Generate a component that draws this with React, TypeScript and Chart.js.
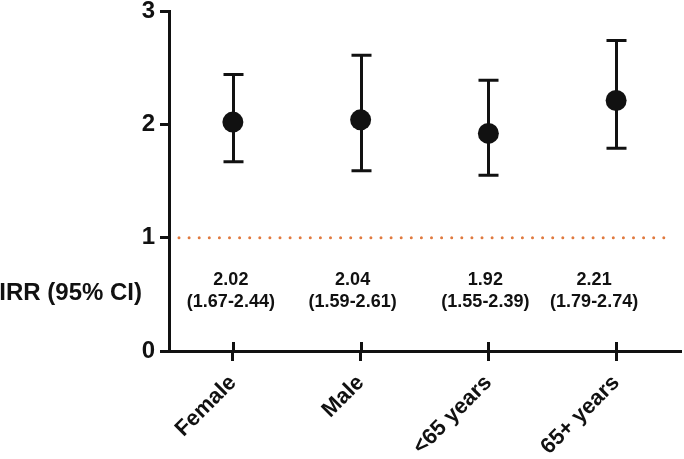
import React, { useEffect, useRef } from 'react';
import { Chart, registerables } from 'chart.js';

Chart.register(...registerables);

const categories = ['Female', 'Male', '<65 years', '65+ years'];
const irr = [2.02, 2.04, 1.92, 2.21];
const ciLower = [1.67, 1.59, 1.55, 1.79];
const ciUpper = [2.44, 2.61, 2.39, 2.74];
const irrLabels = ['2.02', '2.04', '1.92', '2.21'];
const ciLabels = ['(1.67-2.44)', '(1.59-2.61)', '(1.55-2.39)', '(1.79-2.74)'];
const yTicks = [0, 1, 2, 3];
const referenceValue = 1;
const annotationValue = 0.53;
const rowTitle = 'IRR (95% CI)';

const FONT = '"Liberation Sans", Arial, Helvetica, sans-serif';
const INK = '#111111';

const overlayPlugin = {
  id: 'overlay',
  beforeDatasetsDraw(chart: any, _args: any, opts: any) {
    const { ctx, chartArea, scales } = chart;
    const x = scales.x;
    const y = scales.y;
    ctx.save();

    // reference line (dotted)
    const yr = y.getPixelForValue(referenceValue);
    ctx.strokeStyle = '#E07A3F';
    ctx.lineWidth = 3;
    ctx.lineCap = 'round';
    ctx.setLineDash([0, 10.1]);
    ctx.beginPath();
    ctx.moveTo(chartArea.left + 10, yr);
    ctx.lineTo(chartArea.right - 10, yr);
    ctx.stroke();

    // error bars
    ctx.setLineDash([]);
    ctx.lineCap = 'butt';
    ctx.strokeStyle = INK;
    ctx.lineWidth = 3;
    for (let i = 0; i < categories.length; i++) {
      const px = Math.round(x.getPixelForValue(i)) + 0.5;
      const lo = y.getPixelForValue(ciLower[i]);
      const hi = y.getPixelForValue(ciUpper[i]);
      ctx.beginPath();
      ctx.moveTo(px, lo);
      ctx.lineTo(px, hi);
      ctx.moveTo(px - 10, lo);
      ctx.lineTo(px + 10, lo);
      ctx.moveTo(px - 10, hi);
      ctx.lineTo(px + 10, hi);
      ctx.stroke();
    }

    // inner part of x tick marks
    for (let i = 0; i < categories.length; i++) {
      const px = Math.round(x.getPixelForValue(i)) + 0.5;
      ctx.beginPath();
      ctx.moveTo(px, chartArea.bottom - 9);
      ctx.lineTo(px, chartArea.bottom);
      ctx.stroke();
    }

    // annotations
    ctx.fillStyle = INK;
    ctx.textAlign = 'center';
    ctx.textBaseline = 'middle';
    ctx.font = `bold 18px ${FONT}`;
    const ya = y.getPixelForValue(annotationValue);
    const shifts = opts.shifts || [];
    for (let i = 0; i < categories.length; i++) {
      const px = x.getPixelForValue(i) + (shifts[i] || 0);
      ctx.fillText(irrLabels[i], px, ya - 11);
      ctx.fillText(ciLabels[i], px, ya + 11);
    }

    // row title
    ctx.font = `bold 24px ${FONT}`;
    ctx.textAlign = 'right';
    ctx.fillText(rowTitle, 142, ya + 2);
    ctx.restore();
  },
};

export default function App() {
  const ref = useRef<HTMLCanvasElement>(null);

  useEffect(() => {
    if (!ref.current) return;
    const chart = new Chart(ref.current, {
      type: 'line',
      data: {
        labels: categories,
        datasets: [
          {
            label: 'IRR',
            data: irr,
            showLine: false,
            pointRadius: 10.5,
            pointHoverRadius: 10.5,
            pointBackgroundColor: INK,
            pointBorderColor: INK,
            pointBorderWidth: 0,
          },
        ],
      },
      options: {
        responsive: false,
        animation: false,
        events: [],
        layout: { autoPadding: false, padding: { top: 11, right: 4, left: 0, bottom: 0 } },
        plugins: {
          legend: { display: false },
          tooltip: { enabled: false },
          overlay: { shifts: [-2, -8, -3, -22] },
        } as any,
        scales: {
          x: {
            type: 'category',
            offset: true,
            grid: {
              display: true,
              drawOnChartArea: false,
              drawTicks: true,
              tickLength: 10,
              lineWidth: 3,
              color: INK,
              offset: false,
            },
            border: { display: true, color: INK, width: 3 },
            ticks: {
              color: INK,
              font: { family: FONT, size: 22, weight: 'bold' },
              maxRotation: 45,
              minRotation: 45,
              padding: 9,
              autoSkip: false,
            },
            afterFit(scale: any) {
              scale.height = 108;
              scale.paddingLeft = 0;
              scale.paddingRight = 0;
            },
          },
          y: {
            type: 'linear',
            min: 0,
            max: 3,
            grid: {
              display: true,
              drawOnChartArea: false,
              drawTicks: true,
              tickLength: 9,
              lineWidth: 3,
              color: INK,
            },
            border: { display: true, color: INK, width: 3 },
            afterBuildTicks(scale: any) {
              scale.ticks = yTicks.map((v) => ({ value: v }));
            },
            ticks: {
              color: INK,
              font: { family: FONT, size: 24, weight: 'bold' },
              padding: 5,
            },
            afterFit(scale: any) {
              scale.width = 169;
              scale.paddingTop = 0;
              scale.paddingBottom = 0;
            },
          },
        },
      },
      plugins: [overlayPlugin],
    });
    return () => chart.destroy();
  }, []);

  return (
    <div style={{ position: 'absolute', left: 0, top: 0, width: 684, height: 459, background: '#fff' }}>
      <canvas ref={ref} width={684} height={459} />
    </div>
  );
}
